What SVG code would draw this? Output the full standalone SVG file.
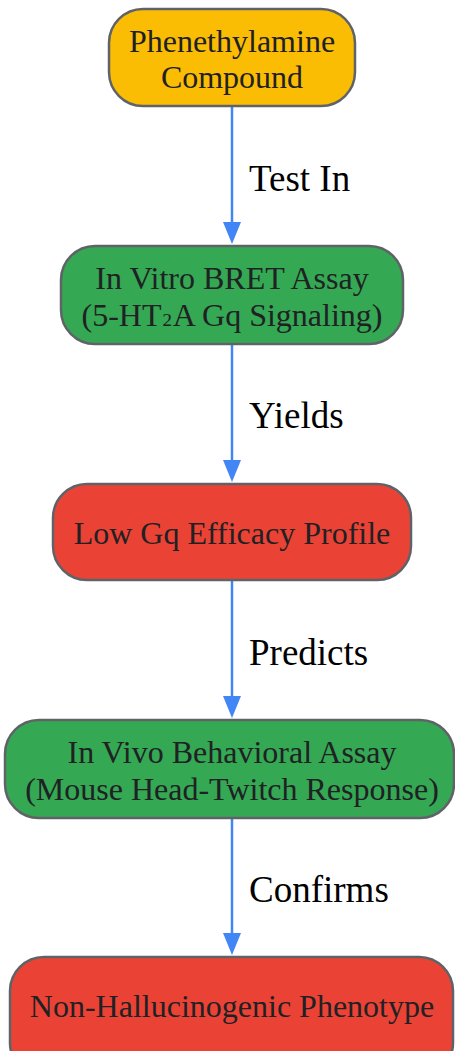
<svg xmlns="http://www.w3.org/2000/svg" width="455" height="1051" viewBox="0 0 455 1051">
<defs>
<style>
.node rect{stroke:#5f6368;stroke-width:2.5}
.t{font-family:"Liberation Serif","Times New Roman",serif;font-size:32px;fill:#202124;text-anchor:middle}
.lbl{font-family:"Liberation Serif","Times New Roman",serif;font-size:37px;fill:#000}
.edge{stroke:#4285F4;stroke-width:2.5;fill:none}
.yellow{fill:#FBBC04}.green{fill:#34A853}.red{fill:#EA4335}
</style>
</defs>
<g id="connectors">
<path class="edge" d="M232,107 V222"/><path d="M223,222 L241,222 L232,244 Z" fill="#4285F4"/>
<path class="edge" d="M232,345 V460"/><path d="M223,460 L241,460 L232,482 Z" fill="#4285F4"/>
<path class="edge" d="M232,581 V696"/><path d="M223,696 L241,696 L232,718 Z" fill="#4285F4"/>
<path class="edge" d="M232,819 V933"/><path d="M223,933 L241,933 L232,955 Z" fill="#4285F4"/>
<text class="lbl" x="249" y="191">Test In</text>
<text class="lbl" x="249" y="428">Yields</text>
<text class="lbl" x="249" y="665">Predicts</text>
<text class="lbl" x="249" y="902">Confirms</text>
</g>
<g id="n1" class="node">
<rect class="yellow" x="109" y="9" width="246" height="97" rx="34"/>
<text class="t" x="232" y="52">Phenethylamine</text>
<text class="t" x="232" y="88">Compound</text>
</g>
<g id="n2" class="node">
<rect class="green" x="61" y="246" width="342" height="98" rx="34"/>
<text class="t" x="232" y="289">In Vitro BRET Assay</text>
<text class="t" x="232" y="326">(5-HT<tspan dy="-6">₂</tspan><tspan dy="6">A Gq Signaling)</tspan></text>
</g>
<g id="n3" class="node">
<rect class="red" x="53" y="484" width="358" height="96" rx="34"/>
<text class="t" x="232" y="544">Low Gq Efficacy Profile</text>
</g>
<g id="n4" class="node">
<rect class="green" x="5" y="720" width="449" height="98" rx="34"/>
<text class="t" x="232" y="763">In Vivo Behavioral Assay</text>
<text class="t" x="232" y="800">(Mouse Head-Twitch Response)</text>
</g>
<g id="n5" class="node">
<rect class="red" x="10" y="957" width="443" height="120" rx="34"/>
<text class="t" x="232" y="1017">Non-Hallucinogenic Phenotype</text>
</g>
</svg>
